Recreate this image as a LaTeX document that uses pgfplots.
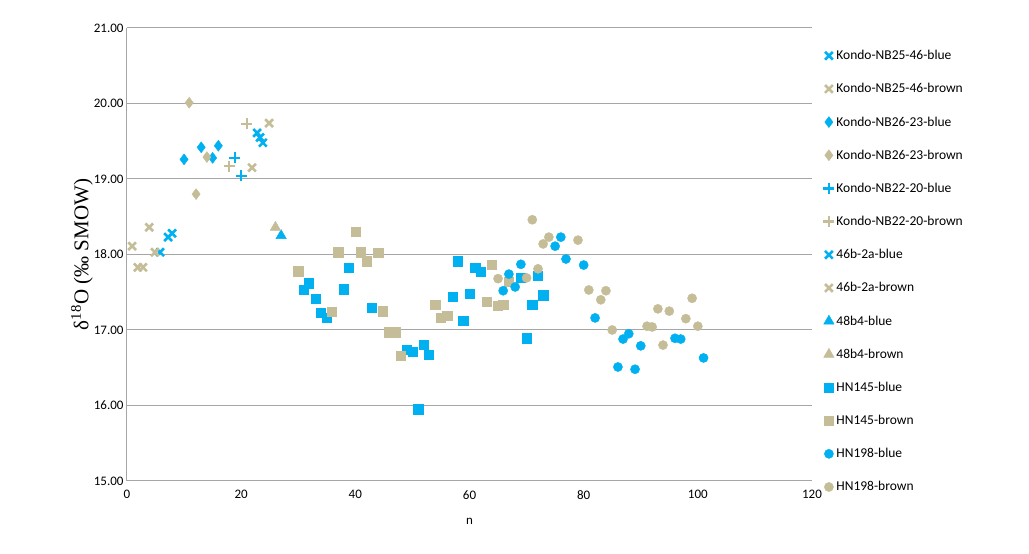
\documentclass[border=0pt]{standalone}
\usepackage{pgfplots}
\pgfplotsset{compat=1.18}
\usepackage{fontspec}
\setmainfont{Carlito}
\newfontfamily\serif{Liberation Serif}
\definecolor{cb}{HTML}{00B0F0}
\definecolor{cr}{HTML}{C4BD97}
\begin{document}
\begin{tikzpicture}
\begin{axis}[name=ax, scale only axis, width=685pt, height=453pt,
 xmin=0,xmax=120,ymin=15,ymax=21, xtick={0,20,...,120}, ytick={15,16,...,21},
 axis x line*=bottom, axis y line*=left, axis line style={gray!70, line width=1pt},
 ymajorgrids, grid style={gray!70, line width=1pt}, tick style={draw=none},
 /pgf/number format/assume math mode=true,
 yticklabel style={/pgf/number format/.cd,fixed,fixed zerofill,precision=2},
 ticklabel style={font=\fontsize{13}{15}\selectfont},
 xticklabel style={yshift=-6pt},
 xlabel={n}, xlabel style={font=\fontsize{13}{15}\selectfont, yshift=-12pt},
 ylabel={\serif δ\textsuperscript{18}O (‰ SMOW)}, ylabel style={font=\fontsize{21}{25}\selectfont, yshift=-6pt},
 legend style={at={(1.012,0.96)}, anchor=north west, draw=none, fill=none, font=\fontsize{13.5}{16}\selectfont, row sep=18.3pt},
 legend cell align=left,
 only marks]
\addplot[mark=x, mark size=5.5pt, cb, line width=2.6pt] coordinates {(5.8,18.03)(7.2,18.23)(7.9,18.28)};
\addlegendentry{Kondo-NB25-46-blue}
\addplot[mark=x, mark size=5.5pt, cr, line width=2.6pt] coordinates {(0.9,18.11)(3.9,18.36)(1.9,17.83)(2.8,17.83)(4.9,18.03)};
\addlegendentry{Kondo-NB25-46-brown}
\addplot[mark=diamond*, mark size=5.5pt, cb] coordinates {(10,19.26)(13,19.42)(16,19.44)(15,19.28)};
\addlegendentry{Kondo-NB26-23-blue}
\addplot[mark=diamond*, mark size=5.5pt, cr] coordinates {(10.9,20.01)(14,19.29)(12.1,18.8)};
\addlegendentry{Kondo-NB26-23-brown}
\addplot[mark=+, mark size=5.5pt, cb, line width=2.4pt] coordinates {(18.9,19.28)(20,19.04)};
\addlegendentry{Kondo-NB22-20-blue}
\addplot[mark=+, mark size=5.5pt, cr, line width=2.4pt] coordinates {(21,19.73)(17.9,19.17)};
\addlegendentry{Kondo-NB22-20-brown}
\addplot[mark=x, mark size=5.5pt, cb, line width=2.6pt] coordinates {(22.8,19.61)(23.8,19.48)(23.3,19.55)};
\addlegendentry{46b-2a-blue}
\addplot[mark=x, mark size=5.5pt, cr, line width=2.6pt] coordinates {(24.9,19.74)(21.9,19.15)};
\addlegendentry{46b-2a-brown}
\addplot[mark=triangle*, mark size=6pt, cb] coordinates {(27,18.25)};
\addlegendentry{48b4-blue}
\addplot[mark=triangle*, mark size=6pt, cr] coordinates {(26,18.36)};
\addlegendentry{48b4-brown}
\addplot[mark=square*, mark size=4.6pt, cb] coordinates {(31.9,17.62)(30.9,17.53)(33.1,17.41)(34,17.23)(35,17.16)(38.9,17.83)(38,17.54)(42.9,17.3)(49,16.74)(50,16.71)(52,16.81)(52.9,16.67)(51,15.95)(58,17.91)(57,17.44)(58.9,17.12)(61,17.82)(62,17.77)(60.1,17.48)(69,17.69)(72,17.72)(72.9,17.46)(71,17.33)(70,16.89)};
\addlegendentry{HN145-blue}
\addplot[mark=square*, mark size=4.6pt, cr] coordinates {(30,17.78)(40.1,18.3)(37,18.03)(41,18.03)(42,17.91)(44,18.02)(35.9,17.24)(44.8,17.25)(45.9,16.97)(47.1,16.97)(48,16.66)(54,17.33)(55,17.16)(56.1,17.19)(63.9,17.86)(63,17.37)(65,17.32)(65.9,17.34)(66.9,17.64)};
\addlegendentry{HN145-brown}
\addplot[mark=*, mark size=4.6pt, cb] coordinates {(65.9,17.52)(66.9,17.74)(68,17.57)(69,17.87)(75,18.11)(76,18.23)(76.9,17.94)(80,17.86)(82,17.16)(86,16.51)(86.9,16.88)(87.9,16.95)(89,16.48)(90,16.79)(96,16.89)(97,16.88)(101,16.63)};
\addlegendentry{HN198-blue}
\addplot[mark=*, mark size=4.6pt, cr] coordinates {(71,18.46)(72.9,18.14)(73.9,18.23)(79,18.19)(72,17.81)(70,17.69)(65,17.68)(80.9,17.53)(83,17.4)(83.9,17.52)(85,17.0)(91.1,17.05)(92,17.04)(93,17.28)(95,17.25)(93.9,16.8)(97.9,17.15)(99,17.42)(100,17.05)};
\addlegendentry{HN198-brown}
\end{axis}
\pgfresetboundingbox
\path[use as bounding box] ([xshift=-127pt,yshift=-73pt]ax.south west) rectangle ([xshift=217pt,yshift=28pt]ax.north east);
\end{tikzpicture}
\end{document}
